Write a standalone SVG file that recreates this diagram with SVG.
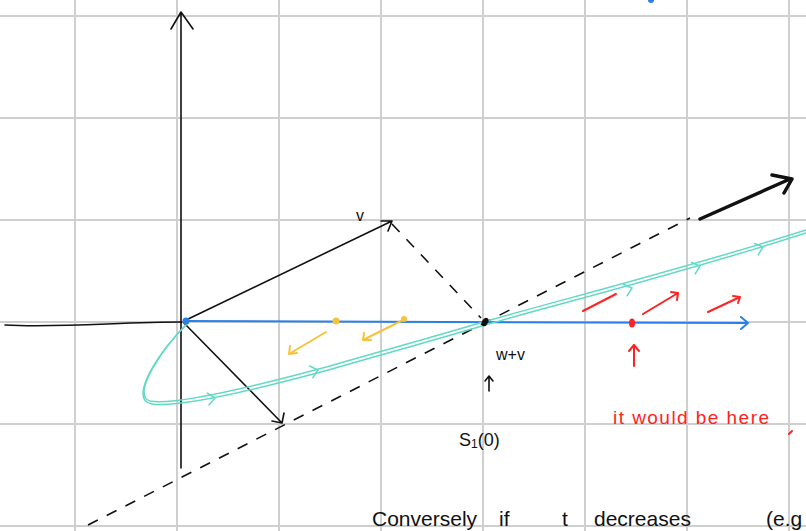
<svg xmlns="http://www.w3.org/2000/svg" width="806" height="531" viewBox="0 0 806 531">
<style>
.grid{stroke:#cfcfcf;stroke-width:2;fill:none}
.ink{stroke:#111;stroke-width:1.6;fill:none;stroke-linecap:round;stroke-linejoin:round}
.dash{stroke:#111;stroke-width:1.6;fill:none;stroke-dasharray:11 10}
.cyan{stroke:#62d9c4;stroke-width:1.5;fill:none;stroke-linecap:round}
.blue{stroke:#2a80e8;stroke-width:2;fill:none;stroke-linecap:round}
.orange{stroke:#f7c23c;stroke-width:2;fill:none;stroke-linecap:round;stroke-linejoin:round}
.red{stroke:#ff2222;stroke-width:2;fill:none;stroke-linecap:round;stroke-linejoin:round}
.hand{font-family:"Liberation Sans",Arial,sans-serif;fill:#111}
</style>
<rect width="806" height="531" fill="#fff"/>
<g id="grid" class="grid">
<line x1="75" y1="0" x2="75" y2="531"/><line x1="177" y1="0" x2="177" y2="531"/><line x1="279" y1="0" x2="279" y2="531"/><line x1="381" y1="0" x2="381" y2="531"/><line x1="483" y1="0" x2="483" y2="531"/><line x1="585" y1="0" x2="585" y2="531"/><line x1="687" y1="0" x2="687" y2="531"/><line x1="789" y1="0" x2="789" y2="531"/>
<line x1="0" y1="16" x2="806" y2="16"/><line x1="0" y1="118" x2="806" y2="118"/><line x1="0" y1="220" x2="806" y2="220"/><line x1="0" y1="322" x2="806" y2="322"/><line x1="0" y1="424" x2="806" y2="424"/><line x1="0" y1="526" x2="806" y2="526"/>
</g>
<g id="connectors">
<path class="ink" d="M181,468 L181,12 M171,29 L181,12 L193,29"/>
<path class="ink" d="M5,325 C60,328 120,322 182,322"/>
<path class="blue" d="M184,321 L748,323 M741,317 L748,323 L741,329"/>
<path class="ink" d="M184,321 L392,221 M381,221 L392,221 L388,231"/>
<path class="ink" d="M184,323 L282,423 M272,421 L282,423 L284,413"/>
<path class="dash" d="M392,224 L481,318"/>
<path class="dash" d="M88,525 L690,218"/>
<path d="M700,219 L790,179 M772,175 L792,179 L784,193" stroke="#111" stroke-width="3.5" fill="none" stroke-linecap="round" stroke-linejoin="round"/>
<path class="cyan" d="M188,323 C165,345 130,395 150,401 C175,406 260,385 330,366 C400,346 450,332 483,322 C560,300 680,270 806,230"/>
<path class="cyan" d="M186,325 C162,348 126,400 152,404 C178,408 262,388 332,369 C402,349 452,335 485,325 C562,303 682,273 806,233"/>
<g class="cyan">
<path d="M-7,-6 L0,0 L-7,6" transform="translate(215,398) rotate(-8)"/>
<path d="M-7,-6 L0,0 L-7,6" transform="translate(318,370) rotate(-15)"/>
<path d="M-7,-6 L0,0 L-7,6" transform="translate(632,288) rotate(-17)"/>
<path d="M-7,-6 L0,0 L-7,6" transform="translate(700,266) rotate(-18)"/>
<path d="M-7,-6 L0,0 L-7,6" transform="translate(763,247) rotate(-18)"/>
</g>
<path class="orange" d="M326,332 L289,354 M290,346 L289,354 L297,353"/>
<path class="orange" d="M403,320 L363,340 M364,333 L363,340 L371,340"/>
<path class="red" d="M583,311 L616,294"/>
<path class="red" d="M643,314 L678,293 M671,292 L678,293 L677,300"/>
<path class="red" d="M708,312 L740,297 M733,296 L740,297 L738,303"/>
<path class="red" d="M634,366 L634,345 M629,351 L634,345 L639,351"/>
<path class="ink" d="M489,391 L489,377 M485,381 L489,376 L493,381"/>
<path class="red" d="M789,434 L792,431"/>
</g>
<g id="points">
<circle cx="186" cy="321" r="3.5" fill="#2a80e8"/>
<circle cx="336" cy="321" r="3.5" fill="#f7c23c"/>
<circle cx="404" cy="319" r="3" fill="#f7c23c"/>
<ellipse cx="485" cy="322" rx="3" ry="4.5" fill="#111" transform="rotate(30 485 322)"/>
<ellipse cx="632" cy="323" rx="3" ry="4.5" fill="#ff2222"/>
<circle cx="651" cy="0" r="3" fill="#2a80e8"/>
</g>
<g id="labels">
<text class="hand" x="356" y="221" font-size="16">v</text>
<text class="hand" x="496" y="360" font-size="16">w+v</text>
<text class="hand" x="459" y="446" font-size="18">S<tspan font-size="12" dy="2">1</tspan><tspan dy="-2">(0)</tspan></text>
<text x="613" y="424" font-size="19" textLength="156" fill="#ff2222" font-family="Liberation Sans,Arial,sans-serif">it would be here</text>
<text class="hand" x="372" y="526" font-size="21">Conversely</text>
<text class="hand" x="499" y="526" font-size="21">if</text>
<text class="hand" x="562" y="526" font-size="21">t</text>
<text class="hand" x="594" y="526" font-size="21">decreases</text>
<text class="hand" x="766" y="526" font-size="21">(e.g</text>
</g>
</svg>
